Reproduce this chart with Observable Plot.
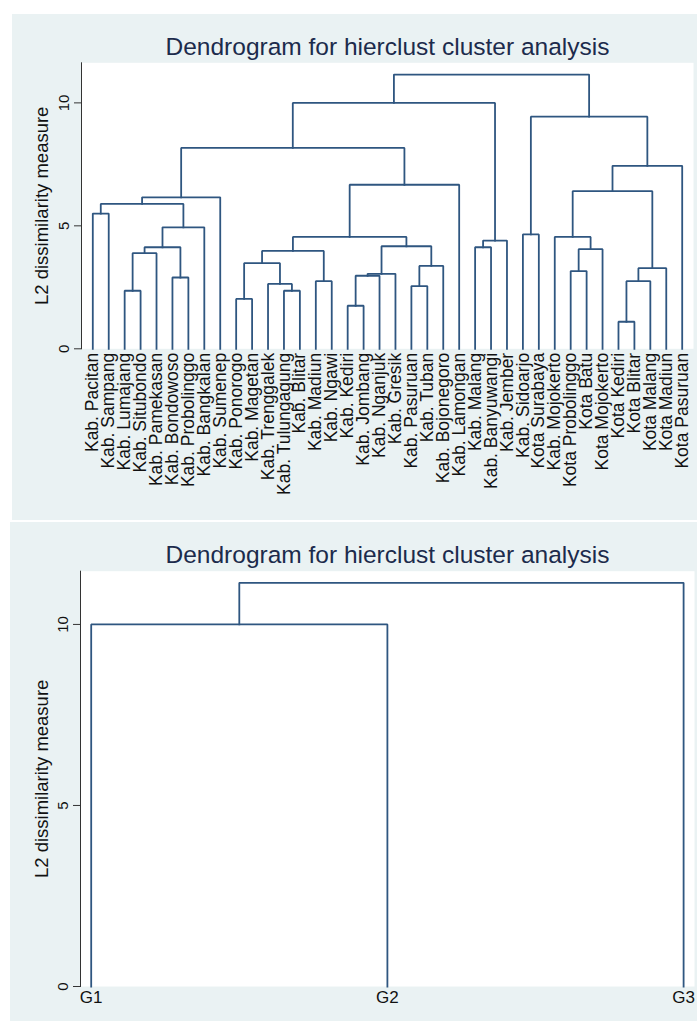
<!DOCTYPE html>
<html><head><meta charset="utf-8">
<script src="https://cdn.jsdelivr.net/npm/d3@7"></script>
<script src="https://cdn.jsdelivr.net/npm/@observablehq/plot@0.6"></script>
<style>
body{margin:0;background:#fff;font-family:"Liberation Sans",Arial,sans-serif;}
#wrap{position:relative;width:697px;height:1021px;overflow:hidden;background:#fff;}
.panel{position:absolute;background:#eaf2f3;}
.panel svg{display:block;}
#p1{left:12px;top:14px;width:685px;height:506px;}
#p2{left:10px;top:522px;width:687px;height:499px;}
</style></head><body>
<div id="wrap"><div class="panel" id="p1"></div><div class="panel" id="p2"></div></div>
<script>
// ---- data: top dendrogram (leaf order as drawn) ----
const leafNames = [
  "Kab. Pacitan","Kab. Sampang","Kab. Lumajang","Kab. Situbondo","Kab. Pamekasan",
  "Kab. Bondowoso","Kab. Probolinggo","Kab. Bangkalan","Kab. Sumenep","Kab. Ponorogo",
  "Kab. Magetan","Kab. Trenggalek","Kab. Tulungagung","Kab. Blitar","Kab. Madiun",
  "Kab. Ngawi","Kab. Kediri","Kab. Jombang","Kab. Nganjuk","Kab. Gresik",
  "Kab. Pasuruan","Kab. Tuban","Kab. Bojonegoro","Kab. Lamongan","Kab. Malang",
  "Kab. Banyuwangi","Kab. Jember","Kab. Sidoarjo","Kota Surabaya","Kab. Mojokerto",
  "Kota Probolinggo","Kota Batu","Kota Mojokerto","Kota Kediri","Kota Blitar",
  "Kota Malang","Kota Madiun","Kota Pasuruan"
];
// merge steps: negative = leaf position (1-based), positive = earlier merge step (1-based)
const mergeLeft   = [-34,-17,-10,-3,-13,-21,-12,-15, 1,-6, 2,11,-31, 9, 6, 3, 4,16,13,-25,17,12,20,18,-30,-28,21,-1,28,29,25,24,31,30,26,34,36];
const mergeRight  = [-35,-18,-11,-4,-14,-22,  5,-16,-36,-7,-19,-20,-32,-37,-23, 7,-5, 8,-33,-26,10,15,-27,22,19,-29,-8,-2,27,-9,14,-24,-38,32,33,23,35];
const mergeHeight = [1.10,1.75,2.03,2.36,2.36,2.55,2.64,2.75,2.75,2.90,2.97,3.05,3.16,3.28,3.37,3.48,3.89,3.98,4.05,4.13,4.13,4.17,4.40,4.55,4.55,4.65,4.94,5.50,5.89,6.16,6.41,6.67,7.44,8.17,9.44,10.0,11.15];

// ---- data: bottom dendrogram ----
const groupNames = ["G1","G2","G3"];
const groupMergeLeft = [-1, 1];
const groupMergeRight = [-2, -3];
const groupMergeHeight = [10.0, 11.15];

const yTicks = [0, 5, 10];
const titleText = "Dendrogram for hierclust cluster analysis";
const yLabel = "L2 dissimilarity measure";

function buildPaths(left, right, heights) {
  const pos = [], hts = [], rows = [];
  const get = c => c < 0 ? [-c, 0] : [pos[c - 1], hts[c - 1]];
  for (let i = 0; i < left.length; i++) {
    const [xa, ha] = get(left[i]);
    const [xb, hb] = get(right[i]);
    const h = heights[i];
    rows.push({k: i, x: xa, y: ha}, {k: i, x: xa, y: h}, {k: i, x: xb, y: h}, {k: i, x: xb, y: hb});
    pos.push((xa + xb) / 2); hts.push(h);
  }
  return rows;
}

const navy = "#2f5680";
const axisCol = "#333";
const font = "'Liberation Sans', Arial, sans-serif";

function dendro(o) {
  const rows = buildPaths(o.left, o.right, o.heights);
  const n = o.names.length;
  return Plot.plot({
    width: o.width, height: o.height,
    marginLeft: o.ml, marginRight: o.mr, marginTop: o.mt, marginBottom: o.mb,
    style: {background: "transparent", fontFamily: font, color: "#111", overflow: "visible"},
    x: {type: "linear", domain: [1, n], insetLeft: o.insetL, insetRight: o.insetR},
    y: {domain: [0, o.yMax]},
    marks: [
      Plot.frame({fill: "white", stroke: "none"}),
      Plot.frame({anchor: "left", stroke: axisCol, strokeWidth: 1}),
      Plot.axisY({ticks: yTicks, tickSize: 7, tickPadding: 6, tickRotate: -90, fontSize: 15, label: null, stroke: axisCol}),
      Plot.axisX({ticks: d3.range(1, n + 1), tickSize: 0, tickPadding: o.xPad, tickRotate: o.xRotate,
                  tickFormat: i => o.names[i - 1], fontSize: o.xFont, label: null, fill: "#111"}),
      Plot.line(rows, {x: "x", y: "y", z: "k", stroke: navy, strokeWidth: 1.8, strokeLinejoin: "miter", strokeLinecap: "square"}),
      Plot.text([yLabel], {text: d => d, frameAnchor: "left", textAnchor: "middle", lineAnchor: "middle",
                           dx: o.labelDx, rotate: -90, fontSize: 18.5, fill: "#111"}),
      Plot.text([titleText], {text: d => d, frameAnchor: "top", textAnchor: "middle", lineAnchor: "middle",
                              dy: o.titleDy, fontSize: 24.5, fill: "#1c2b4c"})
    ]
  });
}

document.getElementById("p1").append(dendro({
  names: leafNames, left: mergeLeft, right: mergeRight, heights: mergeHeight,
  width: 685, height: 506, ml: 69, mr: 4, mt: 48.3, mb: 171.7,
  insetL: 11.3, insetR: 11.3, yMax: 11.63, xRotate: -90, xFont: 17.5, xPad: 4,
  labelDx: -39, titleDy: -15.6
}));

document.getElementById("p2").append(dendro({
  names: groupNames, left: groupMergeLeft, right: groupMergeRight, heights: groupMergeHeight,
  width: 687, height: 499, ml: 70, mr: 3, mt: 48.7, mb: 35,
  insetL: 10.7, insetR: 10.9, yMax: 11.47, xRotate: 0, xFont: 17, xPad: 4,
  labelDx: -38, titleDy: -15.7
}));
</script>
</body></html>
